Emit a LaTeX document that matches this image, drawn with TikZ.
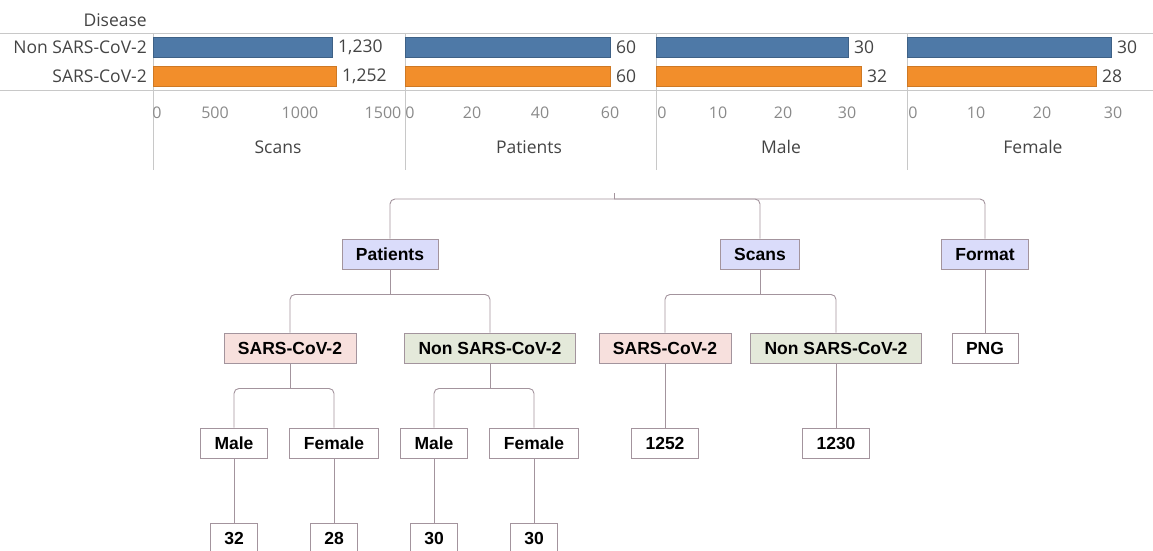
\documentclass[tikz,border=0pt]{standalone}
\usepackage{fontspec}
\setmainfont{Liberation Sans}
\newfontfamily\chartfont{Open Sans}
\usepackage{tikz}
\usetikzlibrary{positioning}

\definecolor{tab_blue}{HTML}{4E79A7}
\definecolor{tab_orange}{HTML}{F28E2B}
\definecolor{axis_gray}{HTML}{C8C8C8}
\definecolor{text_gray}{HTML}{444444}
\definecolor{tick_gray}{HTML}{8A8A8A}
\definecolor{link_gray}{HTML}{A3949D}
\definecolor{fill_top}{HTML}{DADCFA}
\definecolor{fill_sars}{HTML}{F7E0DD}
\definecolor{fill_non}{HTML}{E4E9DA}

\begin{document}
\begin{tikzpicture}[x=1pt,y=-1pt,
  lbl/.style={font=\chartfont\fontsize{17.5}{19}\selectfont,text=text_gray,inner sep=0pt},
  tick/.style={lbl,font=\chartfont\fontsize{16}{18}\selectfont,text=tick_gray},
  grid_line/.style={axis_gray,line width=0.8pt},
  bar_non/.style={fill=tab_blue,draw=tab_blue!80!black,line width=0.4pt},
  bar_sars/.style={fill=tab_orange,draw=tab_orange!85!black,line width=0.4pt},
  box/.style={draw=link_gray,line width=0.9pt,minimum height=30pt,inner xsep=14pt,
    text height=12.5pt,text depth=0pt,
    font=\fontsize{17.5}{19}\selectfont\bfseries,text=black},
  box_top/.style={box,fill=fill_top},
  box_sars/.style={box,fill=fill_sars},
  box_non/.style={box,fill=fill_non},
  box_leaf/.style={box,fill=white},
  link/.style={link_gray,line width=0.9pt,rounded corners=5pt}]
\useasboundingbox (0,0) rectangle (1153,550);

% bar chart
\node[lbl,anchor=east] (disease) at (147,20) {Disease};
\node[lbl,anchor=east] (row_non) at (147,47) {Non SARS-CoV-2};
\node[lbl,anchor=east] (row_sars) at (147,76) {SARS-CoV-2};
\draw[grid_line] (0,33) -- (1153,33);
\draw[grid_line] (0,90) -- (1153,90);
\foreach \x in {153,405,656,907} {
   \draw[grid_line] (\x,33) -- (\x,170);
}
% bars: start / end non / end sars / labels
\foreach \s/\n/\m/\a/\b in %
{153/332/336/{1,230}/{1,252},405/610/610/60/60,656/848/861/30/32,907/1111/1096/30/28} {
   \draw[bar_non] (\s,37) rectangle (\n,57);
   \draw[bar_sars] (\s,66) rectangle (\m,86);
   \node[lbl,anchor=west] at (\n+6,47) {\a};
   \node[lbl,anchor=west] at (\m+6,76) {\b};
}
% tick labels
\foreach \x/\1 in %
{157/0,215/500,300/1000,383/1500,410/0,472/20,540/40,610/60,662/0,718/10,783/20,847/30,913/0,976/10,1042/20,1113/30} {
   \node[tick] at (\x,113) {\1};
}
\foreach \x/\1 in %
{278/Scans,529/Patients,781/Male,1033/Female} {
   \node[lbl] at (\x,147) {\1};
}

% tree
\coordinate (root) at (614,193);
\coordinate (root_j) at (614,199);
\node[box_top] (patients) at (390,254) {Patients};
\node[box_top] (scans) at (760,254) {Scans};
\node[box_top] (format) at (985,254) {Format};

\node[box_sars] (p_sars) at (290,348) {SARS-CoV-2};
\node[box_non] (p_non) at (490,348) {Non SARS-CoV-2};
\node[box_sars] (s_sars) at (665,348) {SARS-CoV-2};
\node[box_non] (s_non) at (836,348) {Non SARS-CoV-2};
\node[box_leaf] (png) at (985,348) {PNG};

\node[box_leaf] (sars_male) at (234,443) {Male};
\node[box_leaf] (sars_female) at (334,443) {Female};
\node[box_leaf] (non_male) at (434,443) {Male};
\node[box_leaf] (non_female) at (534,443) {Female};
\node[box_leaf] (scans_sars) at (665,443) {1252};
\node[box_leaf] (scans_non) at (836,443) {1230};

\node[box_leaf] (n_32) at (234,538) {32};
\node[box_leaf] (n_28) at (334,538) {28};
\node[box_leaf] (n_30a) at (434,538) {30};
\node[box_leaf] (n_30b) at (534,538) {30};

\draw[link] (root) -- (root_j);
\foreach \c in {patients,scans,format} {
   \draw[link] (root_j) -| (\c.north);
}
\draw[link] (patients.south) -- ++(0,25) coordinate (p_j);
\foreach \c in {p_sars,p_non} {
   \draw[link] (p_j) -| (\c.north);
}
\draw[link] (scans.south) -- ++(0,25) coordinate (s_j);
\foreach \c in {s_sars,s_non} {
   \draw[link] (s_j) -| (\c.north);
}
\draw[link] (format.south) -- (png.north);
\draw[link] (p_sars.south) -- ++(0,25) coordinate (ps_j);
\foreach \c in {sars_male,sars_female} {
   \draw[link] (ps_j) -| (\c.north);
}
\draw[link] (p_non.south) -- ++(0,25) coordinate (pn_j);
\foreach \c in {non_male,non_female} {
   \draw[link] (pn_j) -| (\c.north);
}
\draw[link] (s_sars.south) -- (scans_sars.north);
\draw[link] (s_non.south) -- (scans_non.north);
\foreach \a/\b in %
{sars_male/n_32,sars_female/n_28,non_male/n_30a,non_female/n_30b} {
   \draw[link] (\a.south) -- (\b.north);
}
\end{tikzpicture}
\end{document}
